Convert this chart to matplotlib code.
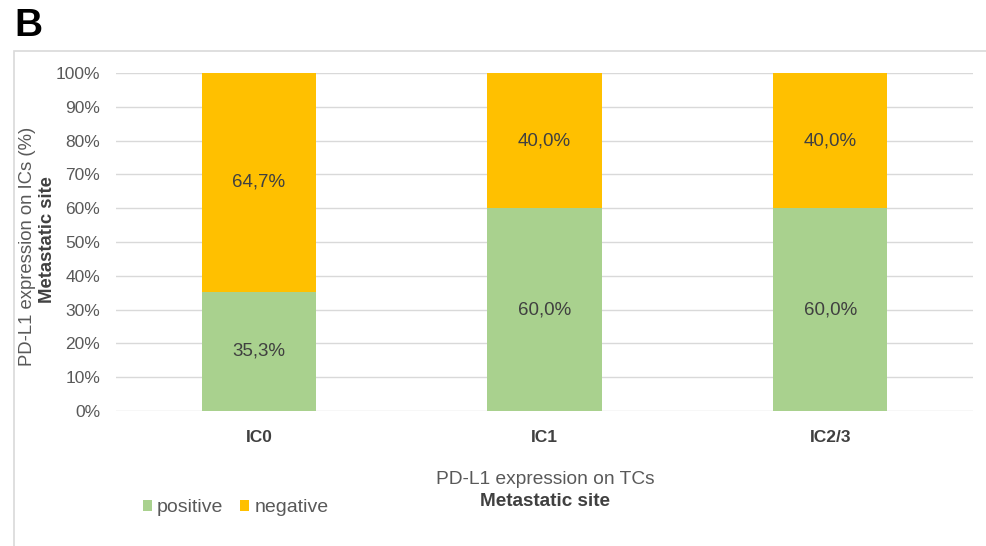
import matplotlib
matplotlib.use("Agg")
import matplotlib.pyplot as plt
from matplotlib.patches import Rectangle
import numpy as np

plt.rcParams['font.family'] = ['Liberation Sans', 'DejaVu Sans']

# data
categories = ["IC0", "IC1", "IC2/3"]
positive = [35.3, 60.0, 60.0]
negative = [64.7, 40.0, 40.0]
series_names = ["positive", "negative"]
yticks = [0, 10, 20, 30, 40, 50, 60, 70, 80, 90, 100]

green = "#A9D18E"
orange = "#FFC000"
grey_txt = "#595959"
lbl_txt = "#404040"

W, H = 986, 546
fig = plt.figure(figsize=(W / 100, H / 100), dpi=100)

# outer frame (light grey), runs past right and bottom edges
fig.patches.append(Rectangle((14 / W, -0.05), 1.1, 1 - 51 / H + 0.05,
                             transform=fig.transFigure, fill=False,
                             edgecolor="#D9D9D9", linewidth=1.2))

ax = fig.add_axes([116 / W, 1 - 411 / H, (973 - 116) / W, (411 - 73) / H])

x = np.arange(len(categories))
ax.bar(x, positive, width=0.4, color=green, label=series_names[0], zorder=3)
ax.bar(x, negative, width=0.4, bottom=positive, color=orange, label=series_names[1], zorder=3)

for i in range(len(categories)):
    ax.text(x[i], positive[i] / 2, ("%.1f%%" % positive[i]).replace(".", ","),
            ha="center", va="center", fontsize=13.5, color=lbl_txt, zorder=4)
    ax.text(x[i], positive[i] + negative[i] / 2, ("%.1f%%" % negative[i]).replace(".", ","),
            ha="center", va="center", fontsize=13.5, color=lbl_txt, zorder=4)

ax.set_xlim(-0.5, len(categories) - 0.5)
ax.set_ylim(0, 100)
ax.set_yticks(yticks)
ax.set_yticklabels(["%d%%" % v for v in yticks], fontsize=12.5, color=grey_txt)
ax.set_xticks(x)
ax.set_xticklabels(categories, fontsize=12.5, fontweight="bold", color=lbl_txt)
ax.tick_params(length=0)
ax.tick_params(axis="y", pad=11.5)
ax.tick_params(axis="x", pad=14)
ax.yaxis.grid(True, color="#D9D9D9", linewidth=1, zorder=0)
for s in ax.spines.values():
    s.set_visible(False)

# axis titles
fig.text(28 / W, 1 - 246 / H, "PD-L1 expression on ICs (%)", rotation=90,
         ha="center", va="center", fontsize=13.3, color=grey_txt)
fig.text(48 / W, 1 - 240 / H, "Metastatic site", rotation=90,
         ha="center", va="center", fontsize=13.3, fontweight="bold", color=lbl_txt)
fig.text(545 / W, 1 - 480 / H, "PD-L1 expression on TCs",
         ha="center", va="center", fontsize=13.8, color=grey_txt)
fig.text(545 / W, 1 - 502 / H, "Metastatic site",
         ha="center", va="center", fontsize=13.6, fontweight="bold", color=lbl_txt)

# panel letter
fig.text(14 / W, 1 - 26 / H, "B", ha="left", va="center", fontsize=28, fontweight="bold")

leg = ax.legend(loc="center left", bbox_to_anchor=(143 / W, 1 - 508 / H),
                bbox_transform=fig.transFigure, ncol=2, frameon=False,
                fontsize=14, handlelength=0.46, handleheight=0.46,
                handletextpad=0.26, columnspacing=0.87, borderaxespad=0,
                borderpad=0)
for t in leg.get_texts():
    t.set_color(grey_txt)

fig.savefig("out.png", dpi=100)
